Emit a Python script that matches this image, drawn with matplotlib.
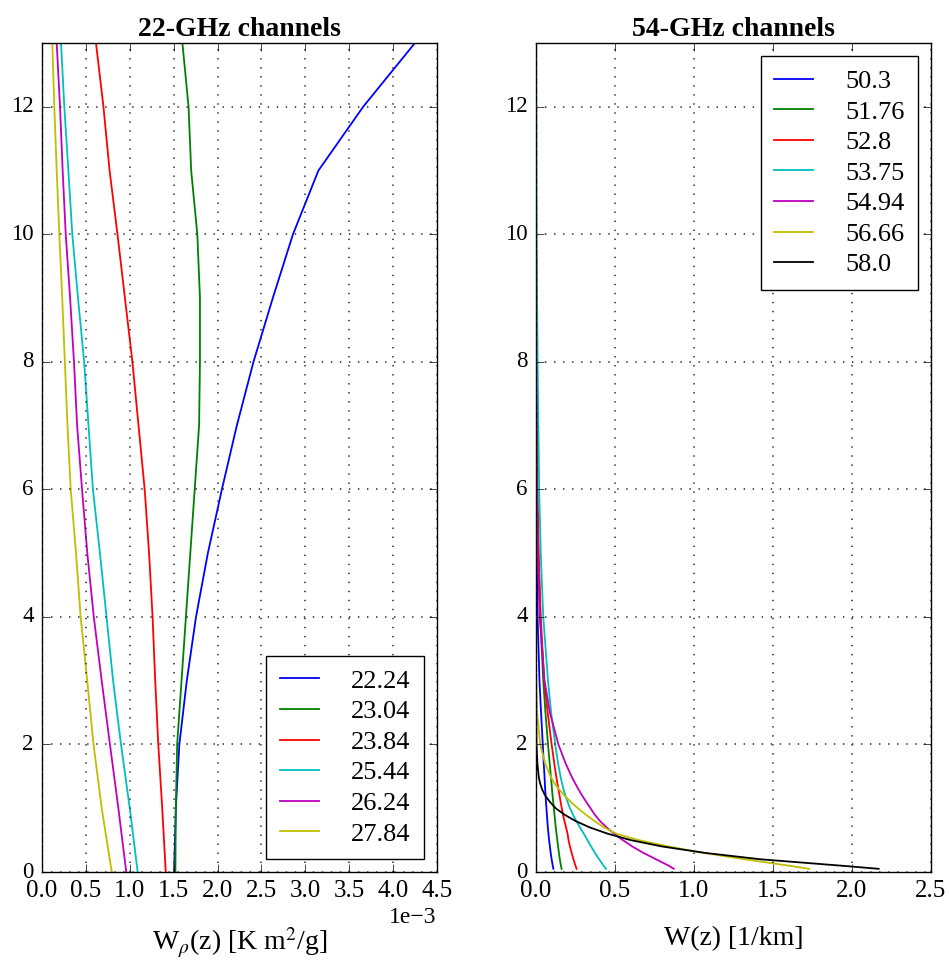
import numpy as np
import matplotlib
matplotlib.use("Agg")
import matplotlib.pyplot as plt
from matplotlib.ticker import ScalarFormatter

# ---------------- data ----------------
# 22-GHz channels: altitude (km) and weighting function (units of 1e-3 K m^2/g)
z_22 = [0, 1, 2, 3, 4, 5, 6, 7, 8, 9, 10, 11, 12, 13]
freqs_22 = ["22.24", "23.04", "23.84", "25.44", "26.24", "27.84"]
w_2224 = [1.505, 1.525, 1.565, 1.65, 1.755, 1.89, 2.05, 2.22, 2.41, 2.63, 2.86, 3.15, 3.66, 4.25]
w_2304 = [1.52, 1.525, 1.54, 1.59, 1.64, 1.69, 1.74, 1.79, 1.80, 1.80, 1.77, 1.70, 1.67, 1.60]
w_2384 = [1.41, 1.37, 1.325, 1.29, 1.26, 1.22, 1.17, 1.10, 1.03, 0.945, 0.86, 0.77, 0.70, 0.615]
w_2544 = [1.09, 1.00, 0.90, 0.81, 0.735, 0.66, 0.58, 0.53, 0.48, 0.41, 0.345, 0.30, 0.254, 0.216]
w_2624 = [0.96, 0.87, 0.774, 0.68, 0.59, 0.516, 0.456, 0.40, 0.364, 0.32, 0.27, 0.235, 0.205, 0.167]
w_2784 = [0.795, 0.68, 0.587, 0.515, 0.44, 0.387, 0.327, 0.29, 0.26, 0.23, 0.197, 0.167, 0.14, 0.117]

# 54-GHz channels: altitude (km) and weighting function (1/km)
z_54 = [0.05, 0.1, 0.2, 0.3, 0.4, 0.5, 0.6, 0.7, 0.8, 0.9,
        1.0, 1.1, 1.2, 1.3, 1.4, 1.5, 1.7, 2.0, 2.5, 3.0,
        4.0, 5.0, 6.0, 8.0, 10.0, 13.0]
freqs_54 = ["50.3", "51.76", "52.8", "53.75", "54.94", "56.66", "58.0"]
w_503 = [0.110, 0.106, 0.099, 0.093, 0.088, 0.083, 0.079, 0.075, 0.072, 0.069,
         0.066, 0.063, 0.061, 0.058, 0.056, 0.054, 0.049, 0.043, 0.032, 0.022,
         0.010, 0.005, 0.002, 0.0005, 0.0, 0.0]
w_5176 = [0.162, 0.158, 0.151, 0.145, 0.140, 0.135, 0.130, 0.125, 0.121, 0.117,
          0.113, 0.109, 0.105, 0.101, 0.098, 0.094, 0.087, 0.076, 0.060, 0.046,
          0.027, 0.015, 0.008, 0.002, 0.0005, 0.0]
w_528 = [0.257, 0.250, 0.237, 0.226, 0.215, 0.206, 0.200, 0.190, 0.180, 0.171,
         0.163, 0.156, 0.149, 0.142, 0.135, 0.128, 0.116, 0.099, 0.074, 0.052,
         0.030, 0.017, 0.009, 0.003, 0.001, 0.0]
w_5375 = [0.443, 0.428, 0.400, 0.373, 0.349, 0.326, 0.303, 0.278, 0.255, 0.234,
          0.215, 0.200, 0.186, 0.174, 0.164, 0.155, 0.140, 0.122, 0.096, 0.076,
          0.046, 0.030, 0.020, 0.010, 0.004, 0.001]
w_5494 = [0.873, 0.840, 0.760, 0.680, 0.610, 0.550, 0.495, 0.447, 0.405, 0.372,
          0.345, 0.318, 0.292, 0.268, 0.246, 0.225, 0.188, 0.142, 0.088, 0.054,
          0.024, 0.011, 0.005, 0.001, 0.0, 0.0]
w_5666 = [1.73, 1.60, 1.32, 1.06, 0.84, 0.65, 0.51, 0.43, 0.37, 0.315,
          0.265, 0.22, 0.18, 0.145, 0.115, 0.092, 0.058, 0.027, 0.007, 0.001,
          0.0, 0.0, 0.0, 0.0, 0.0, 0.0]
w_580 = [2.17, 1.93, 1.42, 1.07, 0.80, 0.60, 0.455, 0.34, 0.25, 0.18,
         0.125, 0.088, 0.058, 0.038, 0.025, 0.017, 0.009, 0.003, 0.001, 0.0,
         0.0, 0.0, 0.0, 0.0, 0.0, 0.0]

# ---------------- style ----------------
plt.style.use("classic")
plt.rcParams.update({
    "figure.facecolor": "white",
    "savefig.facecolor": "white",
    "font.family": "serif",
    "font.serif": ["Liberation Serif", "DejaVu Serif"],
    "mathtext.fontset": "stix",
    "font.size": 16,
    "xtick.labelsize": 18,
    "ytick.labelsize": 16.5,
    "xtick.major.size": 6,
    "ytick.major.size": 6,
    "xtick.major.pad": 6,
    "ytick.major.pad": 6,
    "axes.formatter.use_mathtext": False,
    "axes.unicode_minus": True,
})

colors = ["b", "g", "r", "c", "m", "y", "k"]
grid_kw = dict(color="0.2", linestyle=(0, (1.0, 5.5)), linewidth=1.2)
leg_kw = dict(fancybox=False, fontsize=19, handlelength=1.5, handletextpad=1.2,
              labelspacing=0.27, borderpad=0.5, borderaxespad=0.5, numpoints=1)

fig = plt.figure(figsize=(9.49, 9.61), dpi=100)
ax1 = fig.add_axes([0.0443, 0.0926, 0.416, 0.8626])
ax2 = fig.add_axes([0.5648, 0.0926, 0.416, 0.8626])

# Left panel
series_22 = [w_2224, w_2304, w_2384, w_2544, w_2624, w_2784]
for w, lab, c in zip(series_22, freqs_22, colors):
    ax1.plot(np.array(w) * 1e-3, z_22, color=c, lw=1.3, label=lab)
ax1.set_xlim(0, 4.5e-3)
ax1.set_ylim(0, 13)
ax1.set_xticks(np.arange(0, 4.51e-3, 0.5e-3))
ax1.set_yticks(np.arange(0, 13, 2))
fmt = ScalarFormatter(useMathText=False)
fmt.set_powerlimits((-2, 2))
ax1.xaxis.set_major_formatter(fmt)
ax1.xaxis.get_offset_text().set_fontsize(17)
ax1.grid(True, **grid_kw)
ax1.set_title("22-GHz channels", fontweight="bold", fontsize=20)
ax1.set_xlabel(r"W$_\rho$(z) [K m$^2$/g]", fontsize=20, labelpad=17)
ax1.legend(loc="lower right", **leg_kw)

# Right panel
series_54 = [w_503, w_5176, w_528, w_5375, w_5494, w_5666, w_580]
for w, lab, c in zip(series_54, freqs_54, colors):
    ax2.plot(w, z_54, color=c, lw=1.3, label=lab)
ax2.set_xlim(0, 2.5)
ax2.set_ylim(0, 13)
ax2.set_xticks(np.arange(0, 2.51, 0.5))
ax2.set_yticks(np.arange(0, 13, 2))
ax2.grid(True, **grid_kw)
ax2.set_title("54-GHz channels", fontweight="bold", fontsize=20)
ax2.set_xlabel("W(z) [1/km]", fontsize=20, labelpad=17)
ax2.legend(loc="upper right", **leg_kw)

fig.savefig("out.png", dpi=100)
